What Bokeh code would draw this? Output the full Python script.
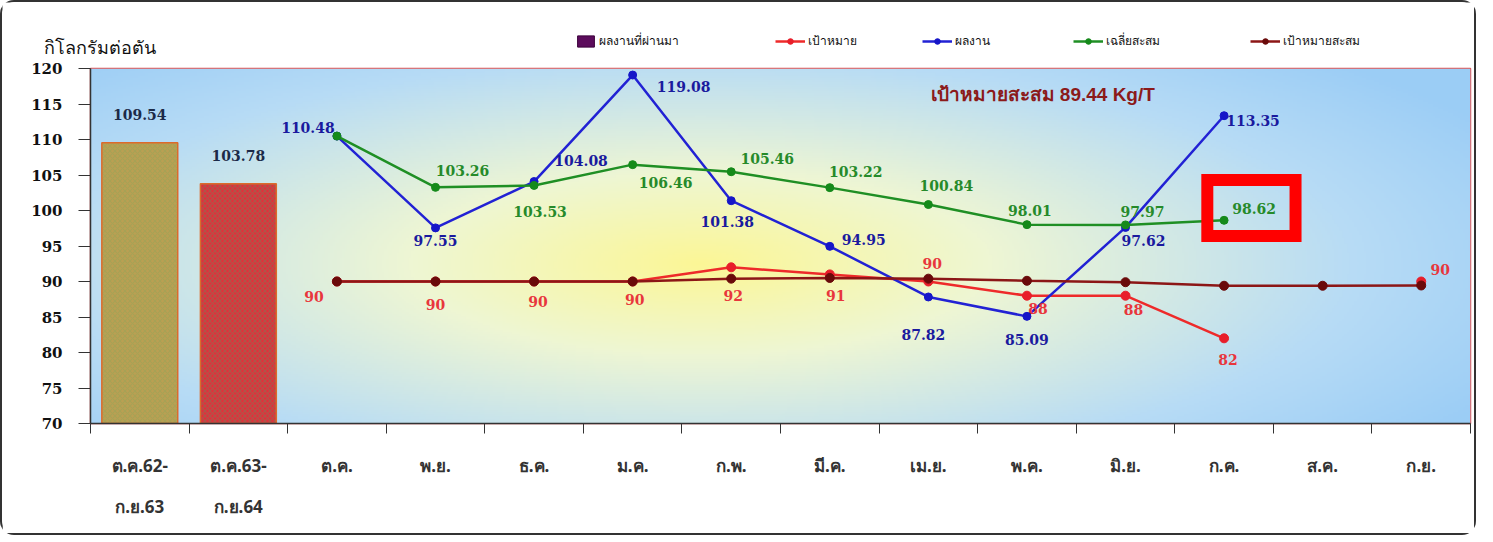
import numpy as np
from bokeh.plotting import figure
from bokeh.layouts import column
from bokeh.models import (ColumnDataSource, FixedTicker, LinearAxis, Legend,
                          LegendItem, Label, BoxAnnotation, Range1d)
from bokeh.core.properties import value
from bokeh.embed import file_html
from bokeh.resources import INLINE

nan = float("nan")

# ---------------- data ----------------
cat_line1 = ["ต.ค.62-", "ต.ค.63-", "ต.ค.", "พ.ย.", "ธ.ค.", "ม.ค.", "ก.พ.",
             "มี.ค.", "เม.ย.", "พ.ค.", "มิ.ย.", "ก.ค.", "ส.ค.", "ก.ย."]
cat_line2 = ["ก.ย.63", "ก.ย.64", "", "", "", "", "", "", "", "", "", "", "", ""]

bar_values = [109.54, 103.78]                       # ผลงานที่ผ่านมา
result = [110.48, 97.55, 104.08, 119.08, 101.38, 94.95, 87.82, 85.09,
          97.62, 113.35, nan, nan]                   # ผลงาน
cum_avg = [110.48, 103.26, 103.53, 106.46, 105.46, 103.22, 100.84, 98.01,
           97.97, 98.62, nan, nan]                   # เฉลี่ยสะสม
target = [90, 90, 90, 90, 92, 91, 90, 88, 88, 82, nan, 90]   # เป้าหมาย
cum_target = [90, 90, 90, 90, 90.4, 90.5, 90.4, 90.1, 89.9, 89.4, 89.4, 89.44]  # เป้าหมายสะสม

y_ticks = list(range(70, 125, 5))
legend_labels = ["ผลงานที่ผ่านมา", "เป้าหมาย", "ผลงาน", "เฉลี่ยสะสม", "เป้าหมายสะสม"]
note_text = "เป้าหมายสะสม 89.44 Kg/T"
y_title = "กิโลกรัมต่อตัน"

# ---------------- label offsets (screen px, styling) ----------------
blue_off = [(-29, -9), (0, 13), (47, -21), (51, 11), (-4, 21), (34, -7),
            (-5, 38), (0, 23), (18, 13), (29, 5), (0, 0), (0, 0)]
green_off = [(0, 0), (27, -17), (6, 26), (33, 18), (36, -13), (26, -16),
             (18, -19), (3, -14), (17, -13), (30, -12), (0, 0), (0, 0)]
red_off = [(-23, 15), (0, 23), (4, 20), (2, 18), (2, 28), (6, 21), (4, -18),
           (11, 13), (8, 14), (4, 21), (0, 0), (19, -12)]
green_show = [False] + [True] * 11

n_cat = len(cat_line1)
centers = np.arange(n_cat) + 0.5
x_bar = centers[:2]
x_month = centers[2:]

W = 1476
H_TOP = 58
H_MAIN = 477

# ======================= header figure (caption + legend) ==================
top = figure(width=W, height=H_TOP, output_backend="svg", toolbar_location=None,
             x_range=Range1d(0, W), y_range=Range1d(0, H_TOP),
             x_axis_location=None, y_axis_location=None, title_location=None,
             min_border_left=0, min_border_right=0, min_border_top=0,
             min_border_bottom=0)
top.styles = {"border-top": "2px solid #333", "border-left": "2px solid #333",
              "border-right": "2px solid #333",
              "border-radius": "14px 14px 0 0"}
top.grid.visible = False
top.outline_line_color = None
top.background_fill_color = "white"
top.border_fill_color = "white"

top.add_layout(Label(x=41, y=14, text=y_title, text_align="left",
                     text_baseline="middle", text_font="Noto Sans",
                     text_font_size="18px", text_color="#111111"))

# legend proxies (hidden renderers drawn from the same data)
lp_bar = top.vbar(x=x_bar, top=bar_values, width=0.77, fill_color="#5c0c5c",
                  line_color="#3c003c", visible=False)
def proxy(vals, lc, pc, size):
    a = top.line(x_month, vals, line_color=lc, line_width=2.5, visible=False)
    b = top.scatter(x_month, vals, size=size, fill_color=pc, line_color=pc,
                    visible=False)
    return [a, b]
lp_red = proxy(target, "#ee2a2a", "#e81e2a", 7)
lp_blue = proxy(result, "#2222d4", "#1616c8", 6)
lp_green = proxy(cum_avg, "#1f8f24", "#158a1a", 6)
lp_brown = proxy(cum_target, "#8c1616", "#6a0a0a", 7)

leg_specs = [(legend_labels[0], [lp_bar], 573, 21),
             (legend_labels[1], lp_red, 773, 30),
             (legend_labels[2], lp_blue, 920, 30),
             (legend_labels[3], lp_green, 1071, 30),
             (legend_labels[4], lp_brown, 1248, 30)]
for lab, rends, vx, gw in leg_specs:
    lg = Legend(items=[LegendItem(label=lab, renderers=rends)],
                location=(vx, 10), orientation="horizontal",
                glyph_width=gw, glyph_height=14, label_height=16,
                label_text_font_size="12px", label_text_font="Noto Sans",
                label_text_color="#111111", padding=0, margin=0,
                border_line_color=None, background_fill_alpha=0,
                inactive_fill_alpha=0, label_standoff=3)
    top.add_layout(lg)

# ======================= main chart ========================================
p = figure(width=W, height=H_MAIN, output_backend="svg", toolbar_location=None,
           x_range=Range1d(0, n_cat), y_range=Range1d(70, 120),
           title_location=None,
           min_border_left=88, min_border_right=8, min_border_top=10,
           min_border_bottom=112)
p.styles = {"border-bottom": "2px solid #333", "border-left": "2px solid #333",
            "border-right": "2px solid #333",
            "border-radius": "0 0 14px 14px"}
p.background_fill_color = "white"
p.border_fill_color = "white"
p.xgrid.visible = False
p.ygrid.visible = False
p.outline_line_color = "#e05555"
p.outline_line_width = 1.5

# keep the header's frame independent of the chart's frame
for fig in (top, p):
    if "frame_align" in type(fig).properties():
        fig.frame_align = False

# background gradient
nx, ny = 560, 160
gx = np.linspace(0, n_cat, nx)
gy = np.linspace(70, 120, ny)
GX, GY = np.meshgrid(gx, gy)
px = GX / n_cat * 1380 + 90
py = 424.5 - (GY - 70) * 7.1
d = np.sqrt(((px - 700) / 650) ** 2 + ((py - 265) / 205) ** 2)
stops = [0, 0.45, 1.0, 1.4]
img = np.empty((ny, nx), dtype=np.uint32)
view = img.view(dtype=np.uint8).reshape((ny, nx, 4))
view[..., 0] = np.interp(d, stops, [252, 238, 184, 155]).astype(np.uint8)
view[..., 1] = np.interp(d, stops, [247, 246, 220, 205]).astype(np.uint8)
view[..., 2] = np.interp(d, stops, [150, 212, 245, 245]).astype(np.uint8)
view[..., 3] = 255
p.image_rgba(image=[img], x=0, y=70, dw=n_cat, dh=50)

# bars
bar_src = ColumnDataSource(dict(
    x=list(x_bar), top=bar_values,
    fill=["#bb9f52", "#e0303c"],
    hatch=["diagonal_cross", "diagonal_cross"],
    hcolor=["#9aa456", "#8a7050"],
    label=[f"{v:.2f}" for v in bar_values]))
p.vbar(x="x", top="top", bottom=70, width=0.77, source=bar_src,
       fill_color="fill", line_color="#dc6a2c", line_width=1.5,
       hatch_pattern="hatch", hatch_color="hcolor", hatch_scale=5,
       hatch_weight=1.2, hatch_alpha=0.6)
p.text(x="x", y="top", text="label", source=bar_src, y_offset=-28,
       text_align="center", text_baseline="middle",
       text_font=value("DejaVu Serif"), text_font_style="bold",
       text_font_size="14px", text_color="#1c2a48")

# lines
def series(vals, line_color, pt_color, lw=2.5, size=8):
    p.line(x_month, vals, line_color=line_color, line_width=lw)
    p.scatter(x_month, vals, size=size, fill_color=pt_color,
              line_color=pt_color)

series(target, "#ee2a2a", "#e81e2a", size=9)
series(result, "#2222d4", "#1616c8")
series(cum_avg, "#1f8f24", "#158a1a")
series(cum_target, "#8c1616", "#6a0a0a", size=9)

def labels(vals, offs, color, show=None):
    xs, ys, tx, dx, dy = [], [], [], [], []
    for i, v in enumerate(vals):
        if v != v:
            continue
        if show is not None and not show[i]:
            continue
        xs.append(x_month[i]); ys.append(v)
        tx.append(f"{v:g}" if float(v).is_integer() else f"{v:.2f}")
        dx.append(offs[i][0]); dy.append(offs[i][1])
    src = ColumnDataSource(dict(x=xs, y=ys, t=tx, dx=dx, dy=dy))
    p.text(x="x", y="y", text="t", x_offset="dx", y_offset="dy", source=src,
           text_align="center", text_baseline="middle",
           text_font=value("DejaVu Serif"), text_font_style="bold",
           text_font_size="14px", text_color=color)

labels(target, red_off, "#e8363c")
labels(result, blue_off, "#1a1a9e")
labels(cum_avg, green_off, "#268a2a", green_show)

# highlight box
p.add_layout(BoxAnnotation(left=11.33, right=12.225, bottom=96.41, top=104.3,
                           fill_alpha=0, line_color="#ff0000", line_alpha=1.0,
                           line_width=12, line_join="miter"))

# note
p.add_layout(Label(x=9.66, y=116.3, text=note_text, text_align="center",
                   text_baseline="middle", text_font="Liberation Sans",
                   text_font_style="bold", text_font_size="19px",
                   text_color="#8b1a1a"))

# axes
ya = p.yaxis[0]
ya.ticker = FixedTicker(ticks=y_ticks)
ya.major_tick_out = 12
ya.major_tick_in = 0
ya.minor_tick_line_color = None
ya.major_label_standoff = 16
ya.major_label_text_font = "DejaVu Serif"
ya.major_label_text_font_style = "bold"
ya.major_label_text_font_size = "15px"
ya.major_label_text_color = "#111111"
ya.axis_line_color = "#333333"
ya.axis_line_width = 1.5
ya.major_tick_line_color = "#333333"

xa = p.xaxis[0]
xa.ticker = FixedTicker(ticks=list(centers), minor_ticks=list(range(n_cat + 1)))
xa.major_label_overrides = {float(c): t for c, t in zip(centers, cat_line1)}
xa.major_tick_line_color = None
xa.major_tick_out = 0
xa.major_tick_in = 0
xa.minor_tick_out = 10
xa.minor_tick_in = 0
xa.minor_tick_line_color = "#333333"
xa.axis_line_color = "#333333"
xa.axis_line_width = 1.5
xa.major_label_standoff = 20
xa.major_label_text_font = "Noto Sans"
xa.major_label_text_font_style = "bold"
xa.major_label_text_font_size = "17px"
xa.major_label_text_color = "#333333"

xa2 = LinearAxis(ticker=FixedTicker(ticks=list(centers)),
                 major_label_overrides={float(c): (t if t else " ")
                                        for c, t in zip(centers, cat_line2)})
xa2.axis_line_color = None
xa2.major_tick_line_color = None
xa2.minor_tick_line_color = None
xa2.major_label_standoff = 9
xa2.major_label_text_font = "Noto Sans"
xa2.major_label_text_font_style = "bold"
xa2.major_label_text_font_size = "17px"
xa2.major_label_text_color = "#333333"
p.add_layout(xa2, "below")

layout = column(top, p, spacing=0)
open("out.html", "w").write(file_html(layout, INLINE))
